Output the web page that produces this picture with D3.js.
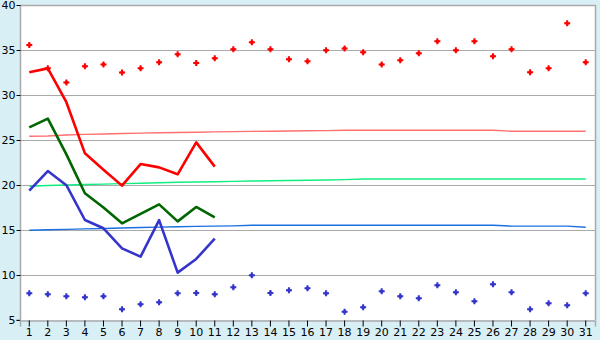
<!DOCTYPE html>
<html>
<head>
<meta charset="utf-8">
<script src="https://cdn.jsdelivr.net/npm/d3@7"></script>
<style>
  body { margin: 0; background: #d9eff6; }
  svg { display: block; }
  text { font-family: "DejaVu Sans", Verdana, sans-serif; font-size: 11px; fill: #000; }
</style>
</head>
<body>
<div id="chart"></div>
<script>
var w = 600, h = 340;
var margin = {top: 5, right: 5, bottom: 20, left: 20};

var days = d3.range(1, 32);
var yTicks = [5, 10, 15, 20, 25, 30, 35, 40];

// daily max / min markers
var maxPoints = [35.56, 32.96, 31.4, 33.19, 33.4, 32.5, 32.96, 33.63, 34.52, 33.56, 34.07,
                 35.07, 35.85, 35.07, 33.96, 33.74, 34.96, 35.18, 34.74, 33.4, 33.85,
                 34.63, 35.96, 34.96, 35.96, 34.3, 35.07, 32.52, 32.96, 37.96, 33.63];
var minPoints = [7.96, 7.85, 7.63, 7.52, 7.63, 6.19, 6.74, 6.96, 7.96, 8.0, 7.85,
                 8.63, 9.96, 8.0, 8.3, 8.52, 7.96, 5.92, 6.41, 8.19, 7.63,
                 7.41, 8.85, 8.07, 7.07, 8.96, 8.07, 6.19, 6.85, 6.63, 7.96];

// thick lines (first 11 days)
var maxLine = [32.52, 32.96, 29.2, 23.52, 21.7, 19.93, 22.33, 21.96, 21.19, 24.74, 22.04];
var meanLine = [26.41, 27.37, 23.4, 19.08, 17.5, 15.74, 16.8, 17.85, 15.96, 17.56, 16.41];
var minLine = [19.37, 21.55, 19.98, 16.11, 15.19, 12.96, 12.04, 16.1, 10.26, 11.78, 14.04];

// thin normal lines
var normMax = [25.41, 25.45, 25.55, 25.62, 25.67, 25.72, 25.76, 25.8, 25.83, 25.86, 25.9,
               25.93, 25.96, 25.98, 26.0, 26.02, 26.04, 26.08, 26.08, 26.08, 26.08,
               26.08, 26.08, 26.08, 26.08, 26.08, 25.98, 25.98, 25.98, 25.98, 25.98];
var normMean = [19.86, 19.95, 20.0, 20.05, 20.1, 20.15, 20.2, 20.25, 20.3, 20.33, 20.36,
                20.4, 20.44, 20.47, 20.5, 20.53, 20.56, 20.6, 20.66, 20.67, 20.67,
                20.67, 20.67, 20.67, 20.67, 20.67, 20.67, 20.67, 20.67, 20.67, 20.67];
var normMin = [14.97, 15.02, 15.07, 15.12, 15.17, 15.22, 15.27, 15.32, 15.36, 15.4, 15.43,
               15.46, 15.52, 15.52, 15.52, 15.52, 15.52, 15.52, 15.52, 15.52, 15.52,
               15.52, 15.52, 15.52, 15.52, 15.52, 15.43, 15.43, 15.43, 15.43, 15.3];

var svg = d3.select("#chart").append("svg")
    .attr("width", w)
    .attr("height", h);

var xScale = d3.scaleBand()
    .domain(days)
    .range([margin.left, w - margin.right]);

var yScale = d3.scaleLinear()
    .domain([5, 40])
    .range([h - margin.bottom, margin.top]);

function cx(d) { return xScale(d) + xScale.bandwidth() / 2; }

// plot background
svg.append("rect")
    .attr("x", margin.left)
    .attr("y", margin.top)
    .attr("width", w - margin.right - margin.left)
    .attr("height", h - margin.bottom - margin.top)
    .attr("fill", "white");

// gridlines
svg.selectAll("line.grid")
    .data(yTicks.slice(1, -1))
    .enter()
    .append("line")
    .attr("class", "grid")
    .attr("x1", margin.left)
    .attr("x2", w - margin.right)
    .attr("y1", function(d) { return Math.round(yScale(d)) + 0.5; })
    .attr("y2", function(d) { return Math.round(yScale(d)) + 0.5; })
    .attr("stroke", "#aaaaaa")
    .attr("stroke-width", 1);

// top and right border
svg.append("path")
    .attr("d", "M" + margin.left + "," + (margin.top + 0.5) + "H" + (w - margin.right + 0.5) + "V" + (h - margin.bottom))
    .attr("fill", "none")
    .attr("stroke", "#aaaaaa")
    .attr("stroke-width", 1.5);

// axes
var yAxis = svg.append("g")
    .attr("transform", "translate(" + (margin.left + 0.5) + ",0)")
    .call(d3.axisLeft(yScale).tickValues(yTicks).tickSize(4).tickPadding(1).tickFormat(d3.format("d")));

var xAxis = svg.append("g")
    .attr("transform", "translate(0," + (h - margin.bottom + 0.5) + ")")
    .call(d3.axisBottom(xScale).tickSize(6).tickPadding(2));

[yAxis, xAxis].forEach(function(g) {
    g.select(".domain").attr("stroke", "#aaaaaa").attr("stroke-width", 1.5);
    g.selectAll(".tick line").attr("stroke", "#000");
    g.selectAll(".tick text").attr("font-family", "DejaVu Sans, Verdana, sans-serif").attr("font-size", "11px").attr("fill", "#000");
});
yAxis.select(".domain").attr("d", "M-4," + (h - margin.bottom) + "H0V" + margin.top);

var line = d3.line()
    .x(function(d, i) { return cx(days[i]); })
    .y(function(d) { return yScale(d); });

// thin normal lines
[[normMax, "#ff7070"], [normMean, "#11ee80"], [normMin, "#1a70e0"]].forEach(function(s) {
    svg.append("path")
        .datum(s[0])
        .attr("d", line)
        .attr("fill", "none")
        .attr("stroke", s[1])
        .attr("stroke-width", 1.4);
});

// thick lines
[[minLine, "#3535cc"], [meanLine, "#006600"], [maxLine, "#ff0000"]].forEach(function(s) {
    svg.append("path")
        .datum(s[0])
        .attr("d", line)
        .attr("fill", "none")
        .attr("stroke", s[1])
        .attr("stroke-width", 2.6)
        .attr("stroke-linejoin", "round");
});

// markers
var cross = d3.symbol().type(d3.symbolCross).size(20);
var square = d3.symbol().type(d3.symbolSquare).size(9);
[[maxPoints, "#ff0000"], [minPoints, "#3535cc"]].forEach(function(s) {
    var g = svg.append("g").selectAll("g")
        .data(s[0])
        .enter()
        .append("g")
        .attr("transform", function(d, i) {
            return "translate(" + cx(days[i]) + "," + yScale(d) + ")";
        })
        .attr("fill", s[1]);
    g.append("path").attr("d", cross);
    g.append("path").attr("d", square);
});
</script>
</body>
</html>
